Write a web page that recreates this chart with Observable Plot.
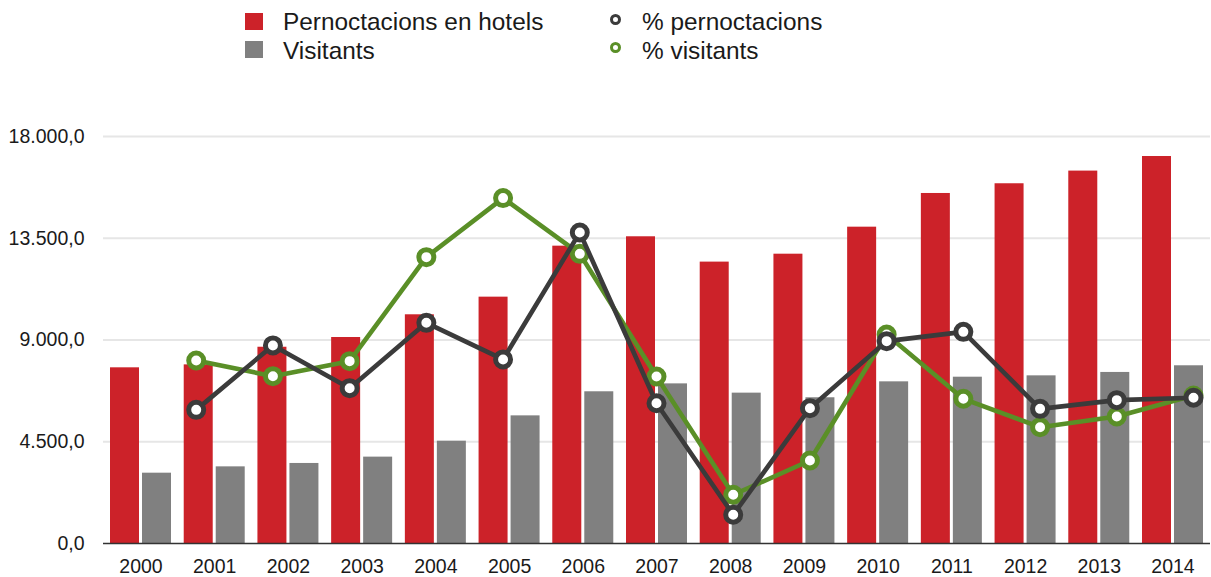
<!DOCTYPE html>
<html>
<head>
<meta charset="utf-8">
<script src="https://cdn.jsdelivr.net/npm/d3@7"></script>
<script src="https://cdn.jsdelivr.net/npm/@observablehq/plot@0.6"></script>
<style>
  body { margin: 0; background: #fff; font-family: "Liberation Sans", Arial, Helvetica, sans-serif; color: #1a1a1a; }
  #legend { position: relative; width: 1211px; height: 75px; font-size: 24.4px; }
  #legend .sw { position: absolute; width: 18px; height: 17px; }
  #legend .mk { position: absolute; width: 5px; height: 5px; border-radius: 50%; border: 3.8px solid; background: #fff; }
  #legend .tx { position: absolute; line-height: 1; white-space: nowrap; }
  #chart { position: relative; width: 1211px; height: 502px; }
  #chart svg { position: absolute; left: 0; top: 0; }
</style>
</head>
<body>
<div id="legend"></div>
<div id="chart"></div>
<script>
// ---- data ----
const years = ["2000","2001","2002","2003","2004","2005","2006","2007","2008","2009","2010","2011","2012","2013","2014"];
const pernoctacions = [7770, 7900, 8680, 9110, 10115, 10895, 13150, 13565, 12445, 12795, 13990, 15480, 15910, 16470, 17115];
const visitants = [3110, 3390, 3540, 3820, 4525, 5645, 6710, 7060, 6650, 6445, 7150, 7355, 7415, 7565, 7860];
const pctPernoctacions = [null, 5910, 8760, 6870, 9760, 8140, 13755, 6205, 1270, 5985, 8950, 9360, 5955, 6340, 6445];
const pctVisitants = [null, 8095, 7400, 8065, 12665, 15275, 12810, 7385, 2155, 3670, 9245, 6400, 5145, 5615, 6545];
const yTicks = [0, 4500, 9000, 13500, 18000];
const seriesNames = ["Pernoctacions en hotels", "Visitants", "% pernoctacions", "% visitants"];
const colors = ["#cc2229", "#808080", "#3b3b3b", "#5a8f27"];

// ---- legend ----
const legend = document.getElementById("legend");
function add(cls, css, text) {
  const el = document.createElement("div");
  el.className = cls;
  Object.assign(el.style, css);
  if (text) el.textContent = text;
  legend.appendChild(el);
}
add("sw", {left: "245px", top: "13px", background: colors[0]});
add("tx", {left: "283px", top: "10px"}, seriesNames[0]);
add("sw", {left: "245px", top: "41px", background: colors[1]});
add("tx", {left: "283px", top: "39px"}, seriesNames[1]);
add("mk", {left: "610px", top: "14px", borderColor: colors[2]});
add("tx", {left: "642px", top: "10px"}, seriesNames[2]);
add("mk", {left: "610px", top: "42px", borderColor: colors[3]});
add("tx", {left: "642px", top: "39px"}, seriesNames[3]);

// ---- tables ----
const barRows = years.map((y, i) => ({year: y, p: pernoctacions[i], v: visitants[i]}));
const lineRows = years.map((y, i) => ({year: y, pp: pctPernoctacions[i], pv: pctVisitants[i]}));

const loc = d3.formatLocale({decimal: ",", thousands: ".", grouping: [3], currency: ["", " €"]});
const fmt = loc.format(",.1f");

const W = 1211, H = 502;
const common = {
  width: W, height: H,
  marginLeft: 103, marginRight: 1, marginTop: 61, marginBottom: 34,
  style: {background: "transparent", fontFamily: "'Liberation Sans', Arial, Helvetica, sans-serif", fontSize: "19.5px", color: "#1a1a1a", overflow: "visible"}
};

const bars = Plot.plot({
  ...common,
  x: {type: "band", domain: years, paddingInner: 0.1725, paddingOuter: 0.095, round: false, tickSize: 0, tickPadding: 16, label: null},
  y: {domain: [0, 18000], ticks: yTicks, tickFormat: fmt, tickSize: 0, tickPadding: 19, label: null},
  marks: [
    Plot.ruleY(yTicks.slice(1), {stroke: "#e6e6e6", strokeWidth: 2}),
    Plot.barY(barRows, {x: "year", y: "p", fill: colors[0], insetRight: 32}),
    Plot.barY(barRows, {x: "year", y: "v", fill: colors[1], insetLeft: 32}),
    Plot.ruleY([0], {stroke: "#333", strokeWidth: 1.6})
  ]
});

const lines = Plot.plot({
  ...common,
  x: {type: "point", domain: years, padding: 0, round: false, insetLeft: 16, insetRight: 17, axis: null},
  y: {domain: [0, 18000], axis: null},
  marks: [
    Plot.line(lineRows, {x: "year", y: "pv", stroke: colors[3], strokeWidth: 4.6, strokeLinejoin: "round"}),
    Plot.dot(lineRows, {x: "year", y: "pv", r: 7.5, stroke: colors[3], strokeWidth: 5, fill: "#fff"}),
    Plot.line(lineRows, {x: "year", y: "pp", stroke: colors[2], strokeWidth: 4.6, strokeLinejoin: "round"}),
    Plot.dot(lineRows, {x: "year", y: "pp", r: 7.5, stroke: colors[2], strokeWidth: 5, fill: "#fff"})
  ]
});

const chart = document.getElementById("chart");
chart.appendChild(bars);
chart.appendChild(lines);
</script>
</body>
</html>
